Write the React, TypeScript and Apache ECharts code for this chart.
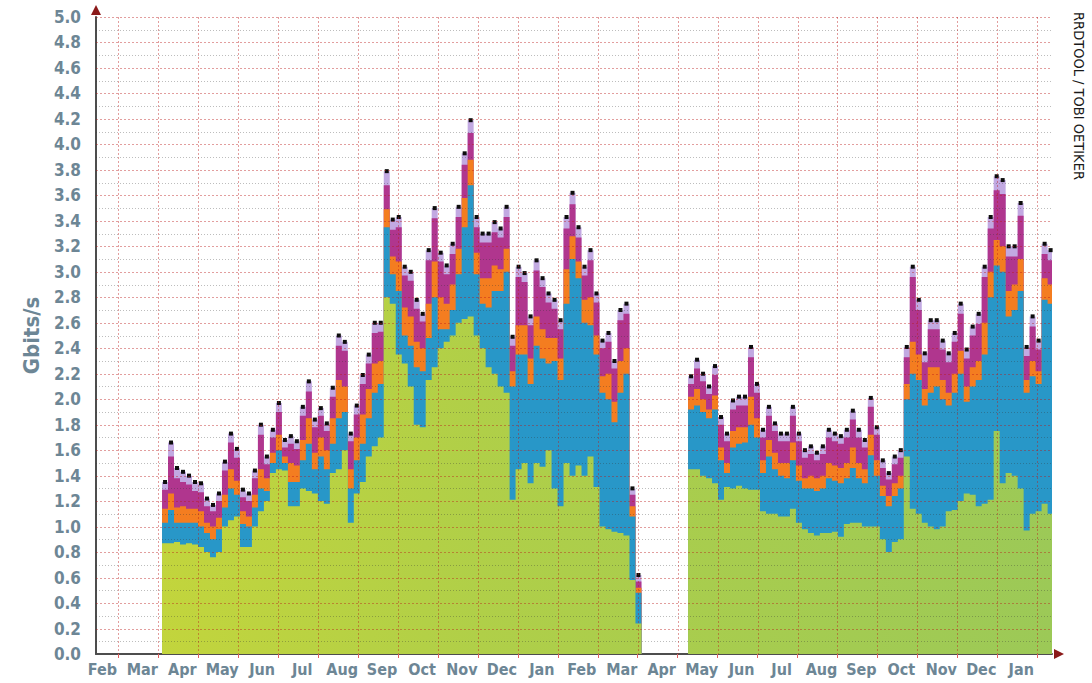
import React, { useEffect, useRef } from "react";
import * as echarts from "echarts";

// Month labels (index 0 = first, partially visible, February)
const MONTHS = ["Feb","Mar","Apr","May","Jun","Jul","Aug","Sep","Oct","Nov","Dec","Jan",
  "Feb","Mar","Apr","May","Jun","Jul","Aug","Sep","Oct","Nov","Dec","Jan"];
// month boundaries (x in month units)
const MONTH_BOUNDS = [1,2,3,4,5,6,7,8,9,10,11,12,13,14,15,16,17,18,19,20,21,22,23,24];
const X_MIN = 0.44;
const X_MAX = 24.37;
const Y_MAX = 5;

// sampling of the two data sections (month units)
const S1_START = 2.093;
const S2_START = 15.26;
const STEP = 0.15;

// ---- Section 1 (Apr .. end of Mar) : boundary levels in Gbit/s ----
const total1 = [1.35,1.66,1.46,1.43,1.40,1.35,1.34,1.22,1.17,1.26,
  1.51,1.73,1.61,1.29,1.26,1.44,1.80,1.55,1.76,1.97,
  1.68,1.71,1.67,1.94,2.14,1.84,1.93,1.81,2.09,2.50,
  2.45,1.73,1.95,2.19,2.35,2.60,2.60,3.79,3.41,3.43,
  3.04,3.00,2.78,2.67,3.17,3.50,3.15,3.05,3.22,3.51,
  3.93,4.19,3.43,3.30,3.30,3.39,3.34,3.51,2.49,3.04,
  2.99,2.65,3.09,2.95,2.83,2.78,2.62,3.43,3.62,3.35,
  3.04,3.17,2.83,2.46,2.52,2.30,2.70,2.75,1.30,0.62];
const magenta1 = [1.29,1.55,1.38,1.35,1.33,1.28,1.27,1.16,1.12,1.20,
  1.44,1.66,1.54,1.23,1.20,1.38,1.72,1.49,1.70,1.90,
  1.62,1.65,1.61,1.87,2.06,1.78,1.87,1.75,2.02,2.42,
  2.38,1.67,1.88,2.12,2.28,2.52,2.53,3.68,3.33,3.35,
  2.97,2.93,2.71,2.61,3.09,3.42,3.08,2.98,3.14,3.43,
  3.84,4.09,3.35,3.23,3.23,3.31,3.27,3.43,2.42,2.96,
  2.92,2.58,3.01,2.88,2.76,2.71,2.55,3.34,3.53,3.27,
  2.97,3.09,2.76,2.40,2.45,2.24,2.62,2.67,1.25,0.57];
const orange1 = [1.14,1.26,1.15,1.16,1.14,1.14,1.12,1.03,1.00,1.07,
  1.25,1.45,1.36,1.12,1.08,1.25,1.45,1.38,1.58,1.72,
  1.55,1.50,1.48,1.68,1.85,1.58,1.70,1.60,1.85,2.15,
  2.10,1.45,1.70,1.88,2.08,2.28,2.30,3.49,3.12,3.08,
  2.72,2.65,2.45,2.40,2.75,3.08,2.80,2.75,2.90,3.18,
  3.58,3.88,3.15,2.95,2.95,3.05,3.02,3.18,2.22,2.58,
  2.58,2.32,2.65,2.55,2.48,2.48,2.32,3.02,3.28,3.08,
  2.78,2.80,2.50,2.18,2.20,1.98,2.30,2.40,1.16,0.52];
const blue1 = [1.03,1.13,1.03,1.03,1.03,1.03,1.00,0.95,0.90,0.98,
  1.15,1.30,1.25,1.02,1.00,1.15,1.30,1.28,1.50,1.60,
  1.50,1.35,1.35,1.52,1.65,1.45,1.55,1.45,1.65,1.85,
  1.90,1.30,1.52,1.65,1.85,2.05,2.12,3.35,2.98,2.85,
  2.50,2.42,2.25,2.22,2.48,2.80,2.55,2.55,2.70,2.98,
  3.35,3.68,2.98,2.75,2.72,2.85,2.85,3.00,2.10,2.35,
  2.35,2.12,2.42,2.32,2.28,2.30,2.15,2.75,3.10,2.95,
  2.60,2.58,2.35,2.05,2.00,1.82,2.05,2.20,1.08,0.48];
const green1 = [0.87,0.87,0.88,0.86,0.87,0.86,0.84,0.80,0.76,0.80,
  1.00,1.05,1.08,0.84,0.84,1.00,1.12,1.20,1.42,1.45,
  1.44,1.16,1.16,1.30,1.28,1.26,1.20,1.18,1.42,1.45,
  1.60,1.03,1.26,1.35,1.55,1.63,1.70,2.80,2.75,2.35,
  2.28,2.10,1.80,1.78,2.15,2.25,2.40,2.45,2.50,2.60,
  2.63,2.65,2.50,2.40,2.25,2.20,2.10,2.05,1.21,1.45,
  1.50,1.34,1.50,1.47,1.60,1.30,1.16,1.50,1.40,1.48,
  1.40,1.55,1.31,1.00,0.98,0.96,0.95,0.93,0.58,0.24];

// ---- Section 2 (May .. early Feb) ----
const total2 = [2.18,2.31,2.20,2.10,2.26,1.86,1.73,1.99,2.02,2.02,
  2.41,2.12,1.76,1.94,1.81,1.73,1.73,1.94,1.73,1.60,
  1.63,1.58,1.63,1.76,1.73,1.71,1.76,1.91,1.76,1.68,
  2.01,1.78,1.52,1.42,1.55,1.60,2.41,3.04,2.78,2.36,
  2.62,2.62,2.46,2.36,2.52,2.75,2.39,2.57,2.67,3.04,
  3.43,3.75,3.72,3.20,3.20,3.54,2.41,2.65,2.46,3.22,3.17];
const magenta2 = [2.12,2.24,2.14,2.04,2.19,1.80,1.67,1.92,1.95,1.95,
  2.33,2.05,1.70,1.87,1.75,1.67,1.67,1.87,1.67,1.54,
  1.57,1.52,1.57,1.70,1.67,1.65,1.70,1.84,1.70,1.62,
  1.94,1.72,1.46,1.37,1.49,1.54,2.33,2.96,2.70,2.29,
  2.55,2.55,2.39,2.29,2.45,2.67,2.32,2.50,2.59,2.96,
  3.34,3.64,3.61,3.12,3.12,3.44,2.34,2.57,2.39,3.14,3.09];
const orange2 = [2.02,2.08,2.00,1.92,2.03,1.62,1.50,1.75,1.78,1.78,
  2.02,1.85,1.52,1.68,1.58,1.50,1.50,1.66,1.48,1.38,
  1.40,1.38,1.40,1.50,1.48,1.46,1.50,1.62,1.50,1.45,
  1.72,1.52,1.32,1.24,1.34,1.40,2.12,2.45,2.35,2.08,
  2.25,2.25,2.15,2.05,2.20,2.38,2.10,2.25,2.30,2.60,
  3.00,3.25,3.20,2.85,2.90,3.10,2.15,2.30,2.22,2.95,2.90];
const blue2 = [1.92,1.95,1.90,1.85,1.92,1.52,1.42,1.62,1.65,1.66,
  1.80,1.70,1.42,1.55,1.45,1.40,1.38,1.52,1.36,1.30,
  1.30,1.28,1.30,1.38,1.36,1.34,1.38,1.46,1.38,1.34,
  1.56,1.40,1.24,1.16,1.24,1.30,2.00,2.20,2.15,1.95,
  2.05,2.10,2.00,1.95,2.05,2.20,1.98,2.10,2.15,2.35,
  2.80,3.05,3.00,2.65,2.70,2.85,2.05,2.18,2.12,2.78,2.75];
const green2 = [1.45,1.45,1.40,1.38,1.34,1.21,1.31,1.30,1.32,1.30,
  1.29,1.29,1.12,1.10,1.10,1.08,1.08,1.14,1.03,0.98,
  0.95,0.93,0.95,0.95,0.96,0.92,1.02,1.03,1.03,1.00,
  1.00,1.00,0.90,0.80,0.88,0.90,1.55,1.14,1.10,1.03,
  1.00,0.98,1.00,1.12,1.13,1.20,1.26,1.25,1.16,1.18,
  1.21,1.75,1.34,1.42,1.40,1.30,0.97,1.10,1.12,1.18,1.10];

const LABEL_COLOR = "#6d8695";
const FONT = "'DejaVu Sans Condensed', 'DejaVu Sans', sans-serif";
const MAJOR_COLOR = "rgba(185,25,25,0.42)";
const MINOR_COLOR = "rgba(50,50,50,0.32)";

function build(a: number[], b: number[]) {
  const out: any[] = [];
  const add = (start: number, arr: number[]) => {
    arr.forEach((v, i) => out.push({ value: [start + i * STEP, v] }));
    out.push({ value: [start + arr.length * STEP, arr[arr.length - 1]], symbol: "none" });
  };
  add(S1_START, a);
  // break between the two sections (no data)
  out.push({ value: [S1_START + a.length * STEP, null], symbol: "none" });
  add(S2_START, b);
  return out;
}

function layer(name: string, a: number[], b: number[], color: any, dots = false) {
  return {
    name,
    type: "line",
    step: "end",
    silent: true,
    z: 2,
    data: build(a, b),
    showSymbol: dots,
    symbol: dots ? "rect" : "none",
    symbolSize: [4, 4],
    symbolOffset: [3, 0],
    itemStyle: { color: "#0d0d0d" },
    lineStyle: { width: 0, opacity: 0 },
    areaStyle: { color, opacity: 1 },
    connectNulls: false,
  };
}

export default function App() {
  const ref = useRef<HTMLDivElement>(null);
  useEffect(() => {
    if (!ref.current) return;
    const chart = echarts.init(ref.current, undefined, { renderer: "svg" });
    const greenGrad = new echarts.graphic.LinearGradient(96, 0, 1052, 0, [
      { offset: 0, color: "#c6d63a" },
      { offset: 0.4, color: "#b0cf48" },
      { offset: 1, color: "#9cc957" },
    ], true);
    const labelPos = MONTHS.map((_, i) => i + 0.6);

    // grid line levels (RRDtool draws its grid on top of the graph)
    const hLines: number[][] = [];
    for (let k = 1; k <= Y_MAX * 10; k++) hLines.push([X_MIN, k / 10, k % 2 === 0 ? 1 : 0]);
    const vLines: number[][] = MONTH_BOUNDS.map((m) => [m, 0]);

    chart.setOption({
      animation: false,
      backgroundColor: "#ffffff",
      grid: { left: 96, right: 40, top: 17, bottom: 29, containLabel: false },
      xAxis: {
        type: "value",
        min: X_MIN,
        max: X_MAX,
        axisLine: { show: true, onZero: false, lineStyle: { color: "#4d4d4d", width: 2 } },
        axisTick: { show: true, customValues: MONTH_BOUNDS, length: 4, lineStyle: { color: "#e06060" } },
        axisLabel: {
          customValues: labelPos,
          formatter: (v: number) => MONTHS[Math.floor(v + 1e-6)] || "",
          color: LABEL_COLOR, fontFamily: FONT, fontWeight: "bold", fontSize: 16, margin: 7,
        },
        splitLine: { show: false },
      },
      yAxis: {
        type: "value",
        min: 0,
        max: Y_MAX,
        interval: 0.2,
        name: "Gbits/s",
        nameLocation: "middle",
        nameRotate: 90,
        nameGap: 54,
        nameTextStyle: { color: LABEL_COLOR, fontFamily: FONT, fontWeight: "bold", fontSize: 22 },
        axisLine: { show: true, lineStyle: { color: "#4d4d4d", width: 2 } },
        axisTick: { show: false },
        axisLabel: {
          formatter: (v: number) => v.toFixed(1),
          color: LABEL_COLOR, fontFamily: FONT, fontWeight: "bold", fontSize: 17, margin: 15,
        },
        splitLine: { show: false },
      },
      graphic: [
        { type: "polygon", shape: { points: [[91, 15], [101, 15], [96, 5]] }, style: { fill: "#8b1a1a" }, z: 10 },
        { type: "polygon", shape: { points: [[1054, 649], [1054, 659], [1064, 654]] }, style: { fill: "#8b1a1a" }, z: 10 },
        {
          type: "text", x: 1086, y: 12, rotation: -Math.PI / 2, z: 10,
          style: { text: "RRDTOOL / TOBI OETIKER", fill: "#1a1a1a", font: "14.5px 'DejaVu Sans Condensed', 'DejaVu Sans', sans-serif", textAlign: "left", textVerticalAlign: "top" },
        },
      ],
      series: [
        layer("other", total1, total2, "#c2a9e2", true),
        layer("magenta", magenta1, magenta2, "#b0368e"),
        layer("orange", orange1, orange2, "#f47d20"),
        layer("blue", blue1, blue2, "#2897c8"),
        layer("green", green1, green2, greenGrad),
        {
          name: "hgrid",
          type: "custom",
          coordinateSystem: "cartesian2d",
          silent: true,
          z: 20,
          zlevel: 1,
          clip: false,
          encode: { x: 0, y: 1 },
          data: hLines,
          renderItem: (params: any, api: any) => {
            const cs = params.coordSys;
            const y = Math.round(api.coord([X_MIN, api.value(1)])[1]) + 0.5;
            const major = api.value(2) === 1;
            return {
              type: "line",
              silent: true,
              shape: { x1: cs.x, y1: y, x2: cs.x + cs.width, y2: y },
              style: { stroke: major ? MAJOR_COLOR : MINOR_COLOR, lineWidth: 1, lineDash: major ? [2, 2] : [1, 2] },
            };
          },
        },
        {
          name: "vgrid",
          type: "custom",
          coordinateSystem: "cartesian2d",
          silent: true,
          z: 20,
          zlevel: 1,
          clip: false,
          encode: { x: 0, y: 1 },
          data: vLines,
          renderItem: (params: any, api: any) => {
            const cs = params.coordSys;
            const x = Math.round(api.coord([api.value(0), 0])[0]) + 0.5;
            return {
              type: "line",
              silent: true,
              shape: { x1: x, y1: cs.y, x2: x, y2: cs.y + cs.height },
              style: { stroke: MAJOR_COLOR, lineWidth: 1, lineDash: [2, 2] },
            };
          },
        },
      ],
    });
    return () => chart.dispose();
  }, []);
  return (
    <div
      ref={ref}
      style={{ position: "absolute", left: 0, top: 0, width: 1092, height: 683, background: "#fff" }}
    />
  );
}
